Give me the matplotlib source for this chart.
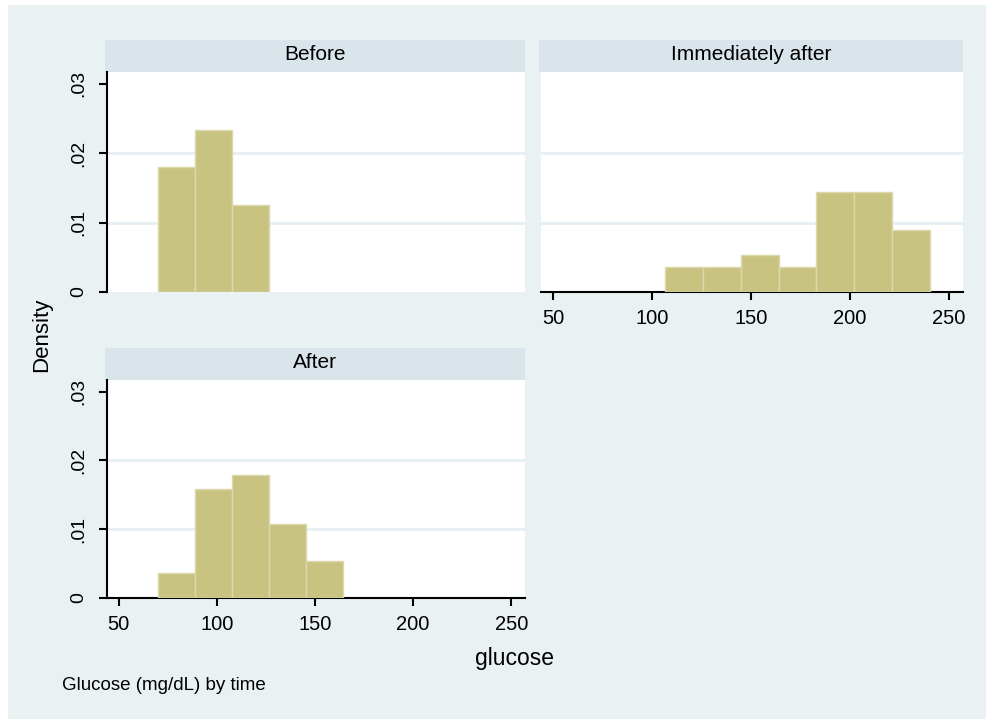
import matplotlib
matplotlib.use("Agg")
import matplotlib.pyplot as plt
from matplotlib.patches import Rectangle

plt.rcParams['font.family'] = ['Liberation Sans', 'DejaVu Sans']

# ---- data ----
panels = ["Before", "Immediately after", "After"]
edges_before = [70.0, 88.9, 107.8, 126.7]
dens_before = [0.0180, 0.0233, 0.0126]
edges_imm = [106.6, 125.7, 144.8, 163.9, 183.0, 202.1, 221.2, 240.3]
dens_imm = [0.0036, 0.0036, 0.0054, 0.0036, 0.0144, 0.0144, 0.0090]
edges_after = [70.0, 88.9, 107.8, 126.7, 145.6, 164.5]
dens_after = [0.0036, 0.0158, 0.0179, 0.0108, 0.0054]
xticks = [50, 100, 150, 200, 250]
yticks = [0, 0.01, 0.02, 0.03]
ytick_labels = ["0", ".01", ".02", ".03"]

BG = "#EAF1F3"
STRIP = "#D9E5EA"
BAR = "#C9C382"
BAREDGE = "#DCD8AC"
GRID = "#E6EFF2"

W, H = 986, 719
fig = plt.figure(figsize=(W / 100, H / 100), dpi=100, facecolor="white")
fig.patches.append(Rectangle((8 / W, 0), 1, 1 - 5 / H, transform=fig.transFigure,
                             facecolor=BG, edgecolor="none", zorder=-10))

def fx(px):
    return px / W

def fy(py):
    return 1 - py / H

boxes = {
    "Before": (107, 525, 72, 292, False),
    "Immediately after": (541, 963, 72, 292, True),
    "After": (107, 525, 380, 598, True),
}
data = {
    "Before": (edges_before, dens_before, True),
    "Immediately after": (edges_imm, dens_imm, False),
    "After": (edges_after, dens_after, True),
}

for name in panels:
    x0, x1, y0, y1, show_x = boxes[name]
    edges, dens, show_y = data[name]
    ax = fig.add_axes([fx(x0), fy(y1), fx(x1 - x0), (y1 - y0) / H])
    ax.set_facecolor("white")
    widths = [edges[i + 1] - edges[i] for i in range(len(dens))]
    ax.bar(edges[:-1], dens, width=widths, align="edge", color=BAR,
           edgecolor=BAREDGE, linewidth=1.0, zorder=3)
    ax.set_xlim(44, 257)
    ax.set_ylim(0, 0.0317)
    for g in [0.01, 0.02]:
        ax.axhline(g, color=GRID, lw=2, zorder=1)
    for s in ["top", "right"]:
        ax.spines[s].set_visible(False)
    ax.spines["left"].set_visible(show_y)
    ax.spines["bottom"].set_visible(show_x)
    ax.spines["left"].set_linewidth(1.5)
    ax.spines["bottom"].set_linewidth(1.5)
    ax.set_yticks(yticks)
    ax.set_xticks(xticks)
    if show_y:
        ax.set_yticklabels(ytick_labels, rotation=90, va="center", fontsize=14)
        ax.tick_params(axis="y", length=6, width=1.5, pad=8)
    else:
        ax.tick_params(axis="y", left=False, labelleft=False)
    if show_x:
        ax.set_xticklabels([str(t) for t in xticks], fontsize=14.5)
        ax.tick_params(axis="x", length=6, width=1.5, pad=6)
    else:
        ax.tick_params(axis="x", bottom=False, labelbottom=False)
    # strip header
    sx0 = x0 - 2
    fig.patches.append(Rectangle((fx(sx0), fy(y0)), fx(x1 - sx0), 32 / H,
                                 transform=fig.transFigure, facecolor=STRIP,
                                 edgecolor="none", zorder=-5))
    fig.text(fx((sx0 + x1) / 2), fy(y0 - 17), name, ha="center", va="center",
             fontsize=15)

fig.text(fx(42), fy(335), "Density", rotation=90, ha="center", va="center", fontsize=16)
fig.text(fx(515), fy(658), "glucose", ha="center", va="center", fontsize=16.5)
fig.text(fx(62), fy(685), "Glucose (mg/dL) by time", ha="left", va="center", fontsize=13.5)

fig.savefig("out.png", dpi=100, facecolor="white")
